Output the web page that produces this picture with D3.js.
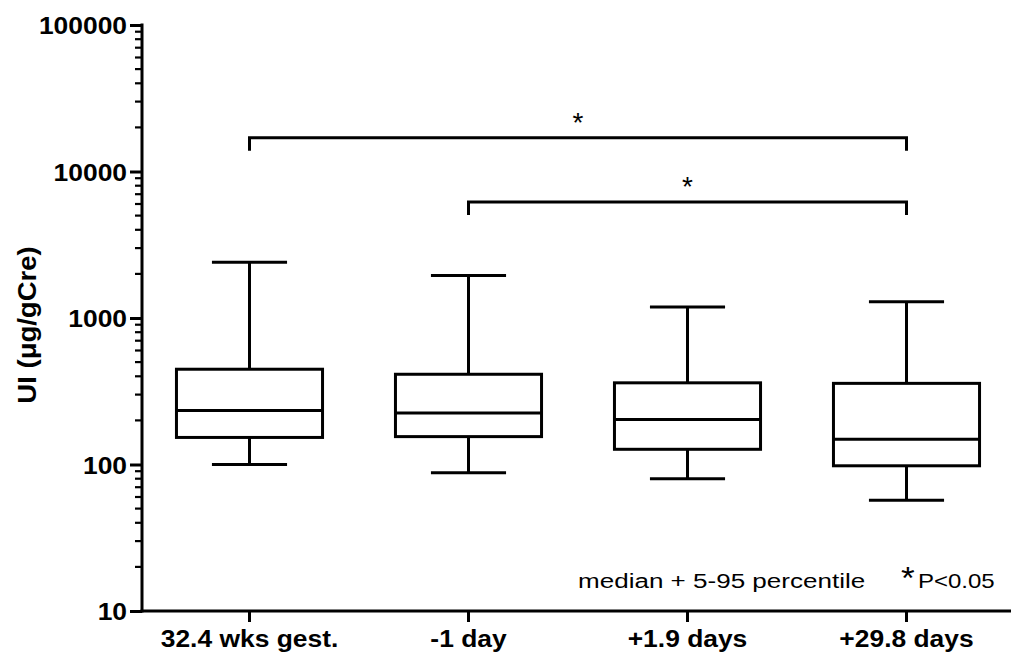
<!DOCTYPE html>
<html><head><meta charset="utf-8">
<script src="https://cdn.jsdelivr.net/npm/d3@7"></script>
<style>body{margin:0;background:#fff}svg{display:block}text{font-family:"Liberation Sans",Arial,sans-serif;fill:#000}</style>
</head><body><svg id="c" width="1011" height="655"></svg>
<script>
const categories = ["32.4 wks gest.", "-1 day", "+1.9 days", "+29.8 days"];
const p5     = [100, 88, 80, 57];
const q1     = [153, 155, 127, 98];
const median = [234, 225, 203, 149];
const q3     = [447, 413, 361, 358];
const p95    = [2400, 1950, 1190, 1290];
const majorTicks = [10, 100, 1000, 10000, 100000];
const tickLabels = ["10", "100", "1000", "10000", "100000"];
const comparisons = [
  {from: "32.4 wks gest.", to: "+29.8 days", level: 17000, label: "*"},
  {from: "-1 day", to: "+29.8 days", level: 6200, label: "*"}
];
const yTitle = "UI (\u03bcg/gCre)";
const noteText = "median + 5-95 percentile";
const sigStar = "*";
const sigText = "P<0.05";

const svg = d3.select("#c");
const W = 1011, H = 655;
const axisX = 142, axisY = 611, topY = 25;
const y = d3.scaleLog().domain([10, 100000]).range([axisY, topY]);
const x = d3.scaleBand().domain(categories).range([140, 1016]);
const cx = c => x(c) + x.bandwidth() / 2;
const SX = 1.1; // horizontal stretch of text

const minor = [];
for (let d = 10; d < 100000; d *= 10) for (let k = 2; k <= 9; k++) minor.push(d * k);

const lw = 3;
svg.append("g").selectAll("line").data(minor).join("line")
  .attr("x1", axisX - 7).attr("x2", axisX).attr("y1", d => y(d)).attr("y2", d => y(d))
  .attr("stroke", "#000").attr("stroke-width", 2.2);
const yAxis = d3.axisLeft(y).tickValues(majorTicks).tickSize(12).tickPadding(3)
  .tickFormat((d, i) => tickLabels[i]);
const gy = svg.append("g").attr("transform", `translate(${axisX},0)`).call(yAxis);
gy.select(".domain").remove();
gy.selectAll(".tick line").attr("stroke", "#000").attr("stroke-width", lw);
gy.selectAll(".tick text").attr("font-size", 24).attr("font-weight", "bold")
  .attr("font-family", "Liberation Sans, Arial, sans-serif").attr("fill", "#000")
  .attr("dy", "0.36em")
  .each(function(){ const t = d3.select(this); const x0 = +t.attr("x"); t.attr("x", x0/SX).attr("transform", `scale(${SX},1)`); });
svg.append("line").attr("x1", axisX).attr("x2", axisX).attr("y1", topY - 1.5).attr("y2", axisY + 1.5)
  .attr("stroke", "#000").attr("stroke-width", lw);

const xAxis = d3.axisBottom(x).tickSize(11).tickPadding(8);
const gx = svg.append("g").attr("transform", `translate(0,${axisY})`).call(xAxis);
gx.select(".domain").remove();
gx.selectAll(".tick line").attr("stroke", "#000").attr("stroke-width", lw);
gx.selectAll(".tick text").attr("font-size", 24).attr("font-weight", "bold")
  .attr("font-family", "Liberation Sans, Arial, sans-serif").attr("fill", "#000")
  .attr("transform", `scale(${SX},1)`);
svg.append("line").attr("x1", axisX - 1.5).attr("x2", W).attr("y1", axisY).attr("y2", axisY)
  .attr("stroke", "#000").attr("stroke-width", lw);

const boxW = x.bandwidth() * 0.667, capW = x.bandwidth() * 0.343;
const data = categories.map((c, i) => ({c, lo: p5[i], q1: q1[i], med: median[i], q3: q3[i], hi: p95[i]}));
const g = svg.append("g").attr("stroke", "#000").attr("stroke-width", lw).attr("fill", "none");
const bx = g.selectAll("g").data(data).join("g");
bx.append("line").attr("x1", d => cx(d.c)).attr("x2", d => cx(d.c)).attr("y1", d => y(d.q3)).attr("y2", d => y(d.hi));
bx.append("line").attr("x1", d => cx(d.c)).attr("x2", d => cx(d.c)).attr("y1", d => y(d.q1)).attr("y2", d => y(d.lo));
bx.append("line").attr("x1", d => cx(d.c) - capW/2).attr("x2", d => cx(d.c) + capW/2).attr("y1", d => y(d.hi)).attr("y2", d => y(d.hi));
bx.append("line").attr("x1", d => cx(d.c) - capW/2).attr("x2", d => cx(d.c) + capW/2).attr("y1", d => y(d.lo)).attr("y2", d => y(d.lo));
bx.append("rect").attr("x", d => cx(d.c) - boxW/2).attr("width", boxW)
  .attr("y", d => y(d.q3)).attr("height", d => y(d.q1) - y(d.q3)).attr("fill", "#fff");
bx.append("line").attr("x1", d => cx(d.c) - boxW/2).attr("x2", d => cx(d.c) + boxW/2).attr("y1", d => y(d.med)).attr("y2", d => y(d.med));

const br = svg.append("g").selectAll("g").data(comparisons).join("g");
br.append("path").attr("fill", "none").attr("stroke", "#000").attr("stroke-width", lw)
  .attr("d", d => `M${cx(d.from)},${y(d.level) + 13}V${y(d.level)}H${cx(d.to)}V${y(d.level) + 13}`);
br.append("text").attr("x", d => (cx(d.from) + cx(d.to)) / 2).attr("y", d => y(d.level) - 6)
  .attr("text-anchor", "middle").attr("font-size", 28).text(d => d.label);

svg.append("text").attr("transform", `translate(36,325) rotate(-90) scale(${SX},1)`)
  .attr("text-anchor", "middle").attr("font-size", 25).attr("font-weight", "bold").text(yTitle);

svg.append("text").attr("transform", `translate(578,588) scale(1.24,1)`).attr("font-size", 21).text(noteText);
svg.append("text").attr("transform", `translate(901,589) scale(1.1,1)`).attr("font-size", 32).text(sigStar);
svg.append("text").attr("transform", `translate(918,588) scale(1.2,1)`).attr("font-size", 20).text(sigText);
</script></body></html>
